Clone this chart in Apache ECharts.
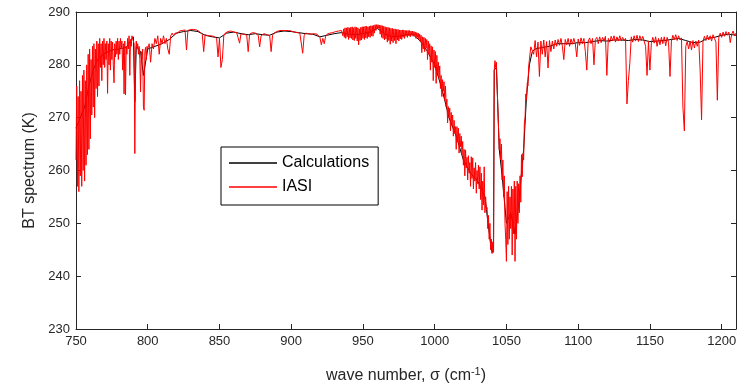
<!DOCTYPE html>
<html>
<head>
<meta charset="utf-8">
<script src="https://cdn.jsdelivr.net/npm/echarts@6/dist/echarts.min.js"></script>
<style>
html,body{margin:0;padding:0;background:#fff;}
#chart{width:752px;height:386px;}
</style>
</head>
<body>
<div id="chart"></div>
<script>
// tick labels
const xTicks = [750, 800, 850, 900, 950, 1000, 1050, 1100, 1150, 1200];
const yTicks = [230, 240, 250, 260, 270, 280, 290];

// IASI measured BT (K) in four sampled pieces
// piece A: 750 .. 799.5 every 0.5 cm-1
const iasiA_start = 750, iasiA_step = 0.5;
const iasiA = [
262,276,257,274,256,277,259,275,257,278,
260,279,258,277,261,280,263,282,264,283,
266,281,270.5,283.5,272,284,270,283,275.5,284.5,
274,284,276,285,279.5,284,277,284.5,280,285,
279.5,284,281,284.5,274.6,284,280,285,279,284.5,
281,284.3,280,276.6,284,281.5,284.5,282,285,281,
284.5,282,285,283,284.5,279,284,274.5,284.5,274.3,
283.5,282,285,283,285.5,278,284.8,283.5,285.5,285.3,
285.6,284,263.2,282,284.5,283,284,282,283.5,281,
274.9,282.5,281,283,272,271.4,282.5,283.3,281,283.5
];
// piece B: 800 .. 935 every 1 cm-1
const iasiB_start = 800, iasiB_step = 1;
const iasiB = [
283,284,280.5,284,283,285,284,285.5,282,285,
284,285.5,284,285,283,282,285.5,286,285.5,286,
286.2,286,286.4,286.2,286.5,286.3,286.6,282.8,286.5,286.6,
286.7,286.6,286.7,286.5,286.6,286.4,286.3,286,285.8,282.5,
285.7,285.6,285.5,285.4,285.5,285.3,285.4,285.2,285,281.5,
285,279.5,281,285.5,286,286.2,286.3,286.2,286.4,286.3,
286.2,286,286.1,285.8,284.1,285.9,286,285.8,285.9,285.6,
282.5,285.8,286,286.1,285.9,286,285.8,285.6,283.4,285.5,
285.8,285.9,286,285.7,285.8,285.5,282.5,285.6,286,286.2,
286.3,286.4,286.5,286.6,286.5,286.6,286.5,286.4,286.5,286.3,
286.4,286.3,286.2,286.4,286.1,286.2,286,285.8,282.2,285.5,
286,286.1,285.9,286,285.8,286,285.9,285.7,285.8,285.5,
285.2,283.8,285,284,285.4,285.8,285.9,286,285.8,286.1,
286,286.3,286.1,286.4,286.2,286.5
];
// piece C: 936 .. 1065.5 every 0.5 cm-1
const iasiC_start = 936, iasiC_step = 0.5;
const iasiC = [
285.5,286.8,285.2,287,285,287,285.3,287.1,284.8,287,
285.1,287.1,285,287.2,284.7,287,284.6,287.2,285,287.1,
284.5,287,283.8,286.8,284.6,287.1,284.7,287.2,285,287.2,
284.8,287.3,285.1,287.3,285,287.2,285.3,287.3,285.2,287.4,
285.5,287.4,285.4,287.5,286,287.6,286.5,287.6,286.8,287.6,
286.9,287.5,285.8,287.5,285.2,287.4,285,287.3,284.7,287.2,
284.9,287.1,284.3,287.1,284.6,287,283.9,286.9,284.5,286.9,
284.2,286.8,284.6,286.8,284,286.7,284.7,286.7,284.5,286.6,
284.9,286.6,284.8,286.6,285.2,286.6,285,286.5,285.4,286.5,
285.2,286.5,285.5,286.5,285.3,286.4,285.6,286.4,285.4,286.3,
285.5,286.2,285,286.1,285.2,286,284.8,285.8,284.4,285.6,
282.3,285.3,283,285.2,282.5,285,283.2,284.8,281,284.5,
282,284,279,283.6,280.5,283.4,277,282.8,279.5,282.5,
276.5,281.8,278.5,280.5,277.5,279.8,275.5,278,274,277.2,
275,276.8,273.3,276,272,273.5,269,272.1,270,271.8,
267.5,271,268.5,270.5,266.5,269.5,267,268.3,264,268.3,
265.5,268,263.3,267,264.5,266.5,263,265.5,261,264,
259,263.9,260.5,262.5,258.2,262.8,259.5,261.5,257,262.6,
258.5,262.4,256.5,260.5,258,261.5,255.7,260,257.5,261,
256.5,260.7,254.5,259.5,252.5,258,253.5,260.7,252,255,
252.5,253,249,251.5,247,250,245,247,244.3,246.5,
244.5,279,280.8,279.5,280.5,276,272,268,264,266,
262,265,258.2,262,255,259,250,247,242.8,256,
246,257,247,255,249,257,244,256.5,248,258,
242.8,257,247,258,250,257.5,252,259,254,263,
258.8,263.2,262,269,270,274.5,273.3,276.5,276,279.6
];
// piece D: 1066 .. 1210 every 1 cm-1
const iasiD_start = 1066, iasiD_step = 1;
const iasiD = [
281,283.4,283.5,282,
284.6,281.5,284.3,277.8,284.5,282,284.7,281.5,284.4,279.4,
284.6,282.5,284.5,283,284.7,283.5,284.8,283.7,285,283.5,
281,284.8,283.8,285,283.5,284.9,283.9,285,284,281.5,
284.9,283.7,285.1,284,285,282.5,279,284.5,285.1,284,
285,280,284.8,285.2,284,285.3,284.2,285.2,284.5,285.4,
278,285,284.3,285.4,284.6,285.5,284.3,285.3,284.5,285.5,
284.5,285.2,284.6,285,272.6,277,280.3,285.3,284.3,285.5,
284.5,285.6,284.4,285.5,284.6,285.4,284.5,283.5,278,284.5,
279,284,285.2,284.1,285.3,283.5,285,283.8,285.2,284,
285.3,283.6,285.2,284.2,277.8,284.5,285.6,284.8,285.7,284.6,
285.5,284.7,285.1,272,267.5,283.5,284.4,283,284.5,282.8,
284.6,283.2,284.5,283.5,284.7,279,269.6,284.5,285.4,284.6,
285.6,284.7,285.5,284.5,285.7,285,284.3,273.3,285.2,286,
285.2,286.2,285.4,286.3,285.6,286.2,284.2,285.8,286.4,285.5,
286
];

// Calculations: wave numbers and BT (K)
const calcWN = [
750,753,756,759,762,765,770,775,780,785,790,791,792,795,797,800,805,810,815,820,
825,830,835,840,845,850,855,860,865,870,875,880,885,890,895,900,905,910,915,920,
925,930,935,940,945,950,955,960,965,970,975,980,985,990,995,1000,1005,1010,1015,1020,
1025,1030,1035,1039,1040,1041,1041.5,1043,1044,1045,1047,1050,1053,1056,1059,1062,1064,1066,1068,1070,
1075,1080,1085,1090,1095,1100,1105,1110,1115,1120,1125,1130,1135,1140,1145,1150,1155,1160,1165,1170,
1175,1180,1185,1190,1195,1200,1205,1210
];
const calcBT = [
268,270,272,276,279,281,282.2,282.8,283,283.3,285.3,273,283.5,282.5,278,283,283.5,284,284.8,286,
286.3,286.5,286.3,285.6,285.3,285.1,286,286.2,285.9,285.7,285.9,285.7,285.6,286.2,286.4,286.3,286.1,285.9,285.8,285.3,
285.6,285.9,286.1,285.8,285.7,285.9,286.2,286.9,285.9,285.3,285.4,285.7,285.7,284.5,282.5,280,275.5,270,266.5,262,
259.5,258,255,246,244.5,245,279,279.5,272,264,259,250,252,248,255,264,274,280,282.5,283,
283.3,283.5,284,284,284,284.2,284.2,284.4,284.6,284.5,284.7,284.7,284.6,284.8,284.7,284.4,284.5,284.6,284.8,285,
284.6,284.2,284.3,285,285.2,285.6,285.8,285.6
];

function piece(start, step, vals) { return vals.map((v, i) => [start + i * step, v]); }
const iasiData = [].concat(
  piece(iasiA_start, iasiA_step, iasiA),
  piece(iasiB_start, iasiB_step, iasiB),
  piece(iasiC_start, iasiC_step, iasiC),
  piece(iasiD_start, iasiD_step, iasiD)
);
const calcData = calcWN.map((w, i) => [w, calcBT[i]]);

const chart = echarts.init(document.getElementById('chart'), null, {renderer: 'canvas'});
const FONT = 'Liberation Sans, Arial, sans-serif';
const axisCol = '#262626';

chart.setOption({
  animation: false,
  backgroundColor: '#fff',
  grid: {left: 76, right: 16, top: 12, bottom: 57, containLabel: false, outerBoundsMode: 'none'},
  legend: {
    orient: 'vertical',
    left: 221, top: 147,
    padding: [8, 9, 10, 8],
    itemGap: 8,
    itemWidth: 48, itemHeight: 1.5,
    icon: 'rect',
    borderColor: '#000', borderWidth: 1,
    backgroundColor: '#fff',
    textStyle: {fontFamily: FONT, fontSize: 16, lineHeight: 16, color: '#000'},
    data: ['Calculations', 'IASI']
  },
  xAxis: [{
    type: 'value', min: 750, max: 1210, interval: 50,
    name: 'wave number, σ (cm{sup|-1})',
    nameLocation: 'middle', nameGap: 37,
    nameTextStyle: {fontFamily: FONT, fontSize: 16, color: axisCol,
      rich: {sup: {fontFamily: FONT, fontSize: 11, color: axisCol, padding: [0,0,9,0]}}},
    axisLine: {lineStyle: {color: axisCol, width: 1}},
    axisTick: {inside: true, length: 5, lineStyle: {color: axisCol}},
    axisLabel: {fontFamily: FONT, fontSize: 13, color: axisCol, margin: 6,
      formatter: v => xTicks.indexOf(v) >= 0 ? String(v) : ''},
    splitLine: {show: false}
  }, {
    type: 'value', min: 750, max: 1210, interval: 50, position: 'top',
    axisLine: {show: true, onZero: false, lineStyle: {color: axisCol, width: 1}},
    axisTick: {inside: true, length: 5, lineStyle: {color: axisCol}},
    axisLabel: {show: false}, splitLine: {show: false}
  }],
  yAxis: [{
    type: 'value', min: 230, max: 290, interval: 10,
    name: 'BT spectrum (K)', nameLocation: 'middle', nameGap: 38,
    nameTextStyle: {fontFamily: FONT, fontSize: 16, color: axisCol},
    axisLine: {show: true, lineStyle: {color: axisCol, width: 1}},
    axisTick: {show: true, inside: true, length: 5, lineStyle: {color: axisCol}},
    axisLabel: {fontFamily: FONT, fontSize: 13, color: axisCol, margin: 6,
      formatter: v => yTicks.indexOf(v) >= 0 ? String(v) : ''},
    splitLine: {show: false}
  }, {
    type: 'value', min: 230, max: 290, interval: 10, position: 'right',
    axisLine: {show: true, onZero: false, lineStyle: {color: axisCol, width: 1}},
    axisTick: {show: true, inside: true, length: 5, lineStyle: {color: axisCol}},
    axisLabel: {show: false}, splitLine: {show: false}
  }],
  series: [{
    name: 'Calculations', type: 'line', data: calcData,
    symbol: 'none', showSymbol: false,
    color: '#000', lineStyle: {color: '#000', width: 1}, z: 2
  }, {
    name: 'IASI', type: 'line', data: iasiData,
    symbol: 'none', showSymbol: false,
    color: '#ff0000', lineStyle: {color: '#ff0000', width: 1}, z: 3
  }]
});
</script>
</body>
</html>
